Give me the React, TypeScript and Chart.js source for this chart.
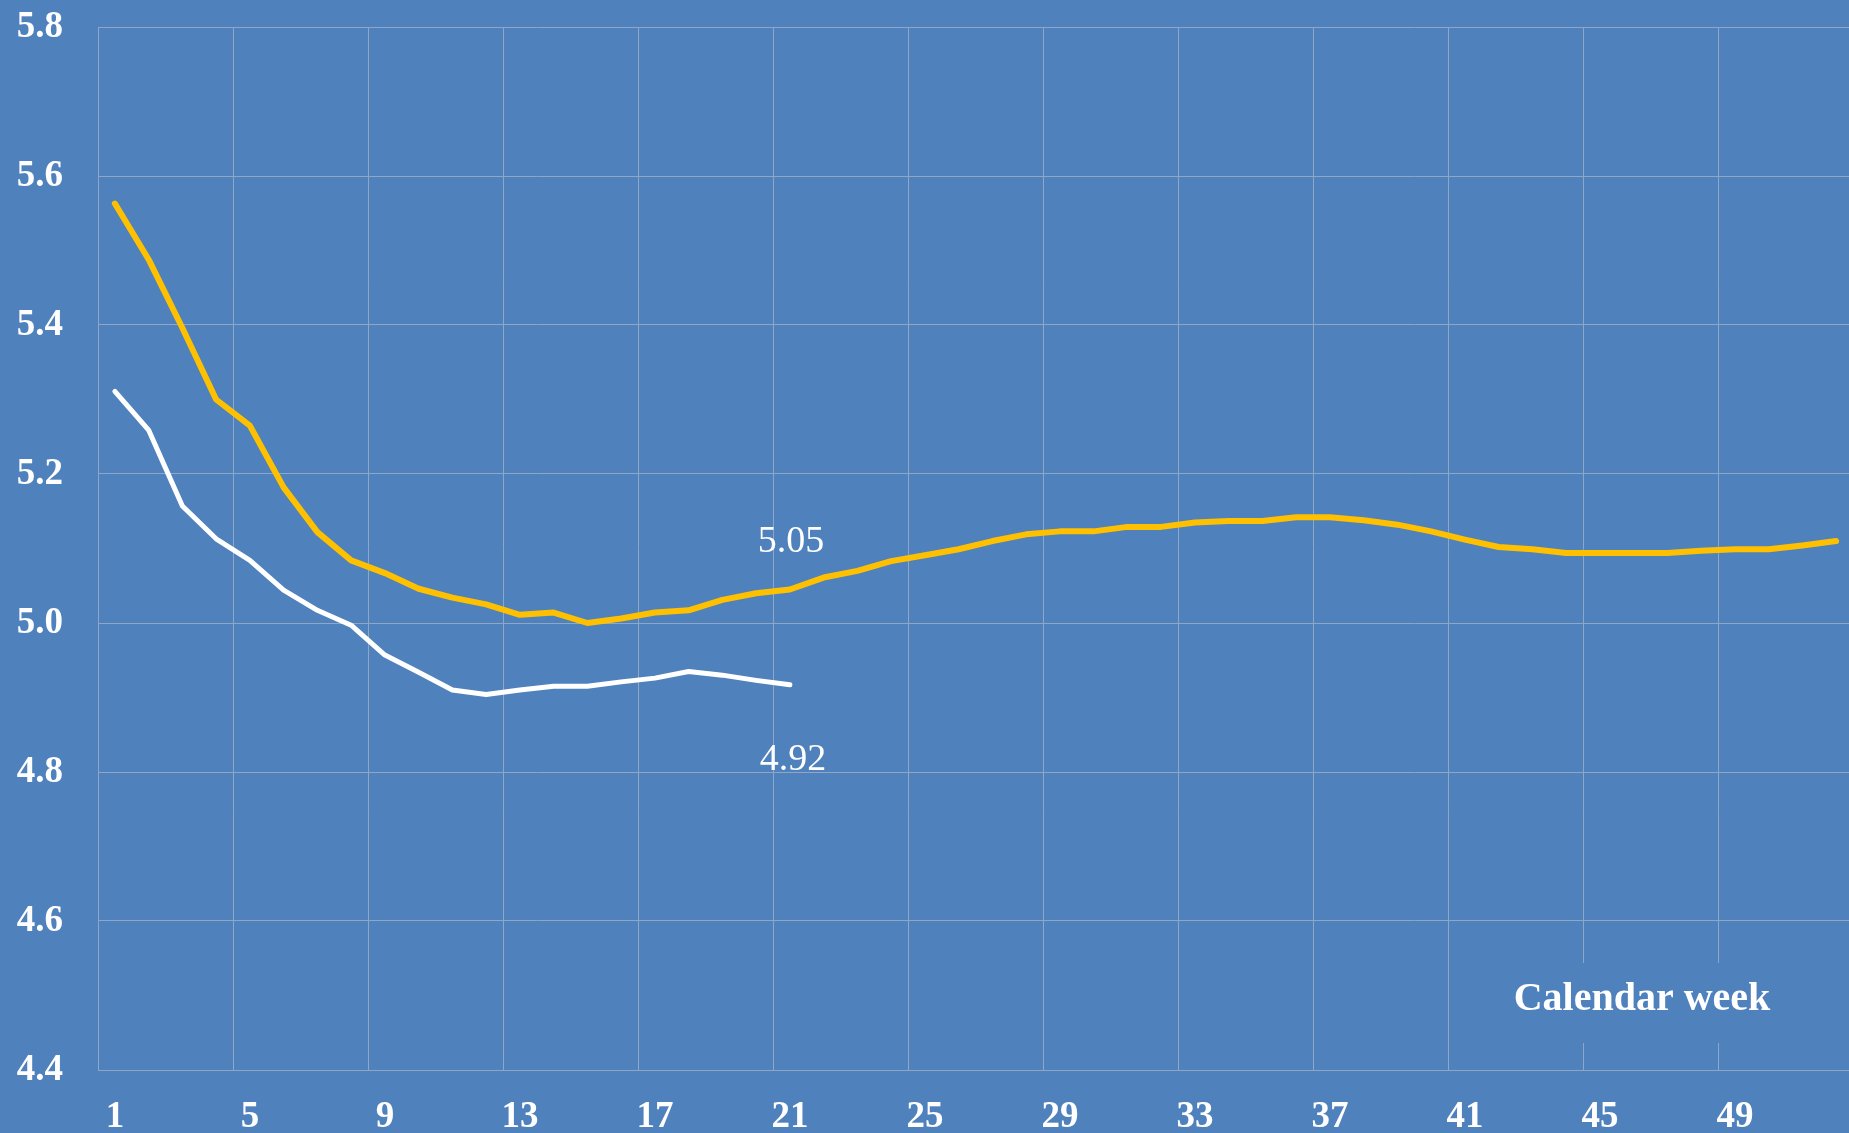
import React, { useEffect, useRef } from "react";
import { Chart, registerables } from "chart.js";

Chart.register(...registerables);

const weeks = [
  "1", "2", "3", "4", "5", "6", "7", "8", "9", "10", "11", "12", "13",
  "14", "15", "16", "17", "18", "19", "20", "21", "22", "23", "24", "25", "26",
  "27", "28", "29", "30", "31", "32", "33", "34", "35", "36", "37", "38", "39",
  "40", "41", "42", "43", "44", "45", "46", "47", "48", "49", "50", "51", "52",
];

const previousYear = [
  5.563, 5.488, 5.396, 5.3, 5.265, 5.182, 5.122, 5.084, 5.067, 5.046, 5.034, 5.025, 5.011,
  5.014, 5.0, 5.006, 5.014, 5.017, 5.031, 5.04, 5.045, 5.061, 5.07, 5.083, 5.091, 5.099,
  5.11, 5.119, 5.123, 5.123, 5.129, 5.129, 5.135, 5.137, 5.137, 5.142, 5.142, 5.138, 5.132,
  5.123, 5.112, 5.102, 5.099, 5.094, 5.094, 5.094, 5.094, 5.097, 5.099, 5.099, 5.104, 5.11,
];

const currentYear = [
  5.311, 5.259, 5.157, 5.113, 5.084, 5.044, 5.017, 4.997, 4.957, 4.934, 4.91, 4.904, 4.91,
  4.915, 4.915, 4.921, 4.926, 4.935, 4.93, 4.923, 4.917,
];

const yMin = 4.4;
const yMax = 5.8;
const yStep = 0.2;

const labelWeekIndex = 20;
const previousLabel = "5.05";
const currentLabel = "4.92";
const axisTitle = "Calendar week";

const BG = "#4F81BD";
const GRID = "#8FA6C7";
const YELLOW = "#FFC000";
const SERIF = "'Liberation Serif', 'Times New Roman', serif";

const annotations = {
  id: "annotations",
  afterDatasetsDraw(chart: any) {
    const ctx = chart.ctx;
    const area = chart.chartArea;
    ctx.save();
    const p0 = chart.getDatasetMeta(0).data[labelWeekIndex];
    const p1 = chart.getDatasetMeta(1).data[labelWeekIndex];
    ctx.fillStyle = "#FFFFFF";
    ctx.font = `38px ${SERIF}`;
    ctx.textAlign = "center";
    ctx.textBaseline = "middle";
    if (p0) ctx.fillText(previousLabel, p0.x + 1, p0.y - 47);
    if (p1) ctx.fillText(currentLabel, p1.x + 3, p1.y + 75);
    const cx = area.right - 211;
    const baseY = area.bottom - 60;
    ctx.fillStyle = BG;
    ctx.fillRect(cx - 145, area.bottom - 107, 290, 80);
    ctx.fillStyle = "#FFFFFF";
    ctx.font = `bold 40px ${SERIF}`;
    ctx.textBaseline = "alphabetic";
    ctx.fillText(axisTitle, cx, baseY);
    ctx.restore();
  },
};

export default function App() {
  const ref = useRef<HTMLCanvasElement | null>(null);

  useEffect(() => {
    document.body.style.margin = "0";
    const canvas = ref.current;
    if (!canvas) return;
    const chart = new Chart(canvas, {
      type: "line",
      data: {
        labels: weeks,
        datasets: [
          {
            label: "Previous year",
            data: previousYear,
            borderColor: YELLOW,
            borderWidth: 6,
            pointRadius: 0,
            tension: 0,
            borderCapStyle: "round",
            borderJoinStyle: "round",
            fill: false,
          },
          {
            label: "Current year",
            data: currentYear,
            borderColor: "#FFFFFF",
            borderWidth: 5,
            pointRadius: 0,
            tension: 0,
            borderCapStyle: "round",
            borderJoinStyle: "round",
            fill: false,
          },
        ],
      },
      options: {
        responsive: false,
        animation: false,
        events: [],
        layout: { padding: { top: 27, left: 0, right: 0, bottom: 0 } },
        plugins: {
          legend: { display: false },
          tooltip: { enabled: false },
          title: { display: false },
        },
        scales: {
          x: {
            type: "category",
            offset: true,
            grid: {
              offset: true,
              drawTicks: false,
              lineWidth: 1,
              color: (c: any) =>
                typeof c.index === "number" && c.index % 4 === 0 ? GRID : "rgba(0,0,0,0)",
            },
            border: { color: GRID, width: 1 },
            ticks: {
              autoSkip: false,
              maxRotation: 0,
              minRotation: 0,
              padding: 25,
              color: "#FFFFFF",
              font: { family: SERIF, size: 37, weight: "bold" },
              callback: (_v: any, i: number) => (i % 4 === 0 ? weeks[i] : ""),
            },
            afterFit: (s: any) => {
              s.height = 63;
              s.paddingLeft = 0;
              s.paddingRight = 0;
              s.paddingTop = 0;
              s.paddingBottom = 0;
            },
          },
          y: {
            min: yMin,
            max: yMax,
            grid: { color: GRID, drawTicks: false, lineWidth: 1 },
            border: { color: GRID, width: 1 },
            ticks: {
              stepSize: yStep,
              padding: 35,
              color: "#FFFFFF",
              font: { family: SERIF, size: 37, weight: "bold" },
              callback: (v: any) => Number(v).toFixed(1),
            },
            afterFit: (s: any) => {
              s.width = 98;
              s.paddingLeft = 0;
              s.paddingRight = 0;
              s.paddingTop = 0;
              s.paddingBottom = 0;
            },
          },
        },
      },
      plugins: [annotations],
    });
    return () => chart.destroy();
  }, []);

  return (
    <div
      style={{
        position: "absolute",
        left: 0,
        top: 0,
        width: 1849,
        height: 1133,
        overflow: "hidden",
        background: BG,
      }}
    >
      <canvas ref={ref} width={1853} height={1133} style={{ display: "block" }} />
    </div>
  );
}
